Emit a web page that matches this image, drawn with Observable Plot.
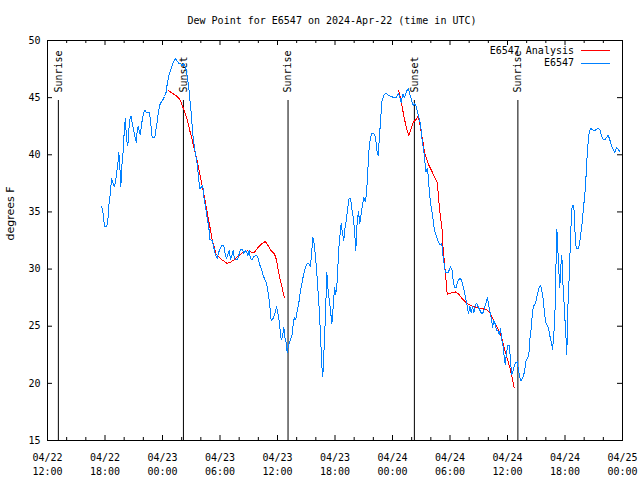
<!DOCTYPE html>
<html>
<head>
<meta charset="utf-8">
<script src="https://cdn.jsdelivr.net/npm/d3@7"></script>
<script src="https://cdn.jsdelivr.net/npm/@observablehq/plot@0.6"></script>
<style>
  html, body { margin: 0; padding: 0; background: #fff; }
</style>
</head>
<body>
<div id="chart"></div>
<script>
// ---------- data ----------
const chartTitle = "Dew Point for E6547 on 2024-Apr-22 (time in UTC)";
const yLabel = "degrees F";
const startTime = "2024-04-22T12:00:00Z";   // hours below are counted from here
const endTime = "2024-04-25T00:00:00Z";
const yDomain = [15, 50];
const yTicks = [15, 20, 25, 30, 35, 40, 45, 50];

const seriesNames = ["E6547 Analysis", "E6547"];
const seriesColors = ["#ff0000", "#0080ff"];

// Sun events
const sunTimes = ["2024-04-22T13:08:00Z", "2024-04-23T02:11:00Z", "2024-04-23T13:06:00Z", "2024-04-24T02:17:00Z", "2024-04-24T13:05:00Z"];
const sunLabels = ["Sunrise", "Sunset", "Sunrise", "Sunset", "Sunrise"];

// E6547 observations (hours since startTime, degrees F)
const obsHours = [
  5.63,5.77,5.95,6.16,6.29,6.44,6.57,6.68,6.86,6.96,
  7.10,7.20,7.34,7.44,7.54,7.65,7.75,7.90,8.03,8.14,
  8.24,8.38,8.48,8.63,8.73,8.87,9.01,9.15,9.26,9.36,
  9.46,9.57,9.67,9.78,9.91,10.05,10.15,10.30,10.64,10.75,
  10.85,10.93,11.20,11.30,11.45,11.55,11.69,11.86,12.03,12.21,
  12.39,12.49,12.66,12.84,13.01,13.18,13.36,13.53,13.70,13.88,
  14.06,14.22,14.40,14.58,14.74,14.85,15.00,15.13,15.27,15.44,
  15.62,15.79,15.89,16.07,16.21,16.31,16.49,16.66,16.83,16.94,
  17.19,17.35,17.53,17.71,17.88,18.05,18.26,18.40,18.54,18.68,
  18.81,18.96,19.10,19.23,19.38,19.51,19.80,19.96,20.14,20.35,
  20.48,20.63,20.77,20.90,21.05,21.18,21.36,21.53,21.74,21.94,
  22.09,22.23,22.36,22.51,22.64,22.78,22.93,23.06,23.20,23.34,
  23.48,23.61,23.76,23.90,24.03,24.18,24.28,24.39,24.52,24.66,
  24.76,24.91,25.01,25.18,25.36,25.51,25.64,25.77,25.91,26.06,
  26.22,26.40,26.58,26.74,26.92,27.10,27.27,27.44,27.58,27.68,
  27.83,27.97,28.10,28.25,28.38,28.49,28.62,28.73,28.87,29.01,
  29.15,29.25,29.40,29.53,29.67,29.81,29.95,30.08,30.23,30.37,
  30.50,30.65,30.78,30.92,31.06,31.20,31.34,31.48,31.62,31.75,
  31.90,32.04,32.17,32.32,32.45,32.59,32.73,32.87,33.01,33.15,
  33.29,33.42,33.57,33.71,33.88,34.05,34.23,34.36,34.51,34.61,
  34.75,34.88,35.09,35.27,35.61,36.14,36.42,36.60,36.76,36.91,
  37.08,37.25,37.43,37.64,37.81,37.98,38.16,38.33,38.47,38.61,
  38.75,38.92,39.06,39.20,39.34,39.48,39.62,39.73,39.86,40.04,
  40.21,40.38,40.73,40.94,41.14,41.29,41.43,41.53,41.81,42.05,
  42.23,42.33,42.47,42.65,42.81,43.02,43.23,43.38,43.51,43.65,
  43.80,43.93,44.07,44.21,44.35,44.49,44.63,44.77,44.94,45.11,
  45.29,45.47,45.63,45.78,45.91,46.05,46.20,46.33,46.44,46.57,
  46.72,46.85,46.99,47.13,47.27,47.41,47.55,47.66,47.76,47.90,
  48.03,48.21,48.31,48.45,48.60,48.73,48.87,49.01,49.15,49.28,
  49.43,49.60,49.77,49.91,50.06,50.22,50.33,50.48,50.61,50.75,
  50.92,51.10,51.27,51.44,51.58,51.73,51.86,52.00,52.14,52.28,
  52.41,52.56,52.70,52.83,52.98,53.08,53.15,53.22,53.32,53.46,
  53.57,53.67,53.77,53.92,54.02,54.13,54.19,54.29,54.44,54.54,
  54.65,54.75,54.92,55.02,55.17,55.38,55.51,55.65,55.80,55.90,
  56.04,56.14,56.24,56.35,56.49,56.66,56.87,57.08,57.25,57.42,
  57.63,57.81,57.99,58.15,58.33,58.51,58.68,58.85,59.03,59.20,
  59.37,59.55,59.69
];
const obsDewPoint = [
  35.5,35.1,33.7,33.7,34.2,35.9,36.7,37.9,37.5,37.2,
  37.6,38.3,39.2,40.2,39.1,37.2,38.9,40.4,42.4,43.2,
  41.3,40.8,42.1,43.3,43.4,42.6,42.1,41.5,41.1,42.1,
  42.5,42.1,41.8,42.4,43.2,43.7,43.9,43.7,43.7,43.0,
  42.1,41.5,41.5,42.1,42.9,43.6,44.3,44.6,44.8,45.1,
  45.5,46.2,46.9,47.4,47.8,48.2,48.4,48.2,48.0,48.0,
  47.8,48.0,47.7,46.9,45.9,44.9,43.6,42.1,41.0,40.1,
  39.2,37.8,37.0,37.2,37.3,36.3,35.4,34.5,33.7,32.6,
  32.5,31.9,31.2,30.9,31.5,31.9,32.1,32.0,31.3,30.9,
  31.3,31.6,30.8,31.2,31.6,30.9,30.8,31.2,31.7,31.7,
  31.4,31.6,31.5,31.2,31.6,30.9,30.8,31.1,31.2,31.1,
  30.5,30.2,29.9,29.4,29.2,28.9,28.4,27.8,26.8,25.5,
  25.6,25.8,26.2,26.7,26.2,25.4,24.6,23.8,24.1,24.9,
  24.1,23.5,22.7,23.4,23.8,24.2,25.2,25.8,25.6,26.4,
  27.0,28.1,28.9,29.6,30.2,30.5,30.5,30.2,31.6,32.8,
  32.2,31.0,29.7,27.8,26.1,24.2,21.6,20.6,23.2,26.1,
  29.7,28.4,27.3,26.4,25.2,26.7,28.4,27.8,28.9,31.5,
  32.8,34.0,33.1,32.5,33.7,34.4,35.4,36.2,36.2,35.3,
  34.5,33.4,31.6,34.3,35.0,34.0,34.8,35.6,36.3,35.9,
  36.6,38.6,40.7,41.5,41.9,41.9,41.5,40.4,39.9,41.3,
  42.9,44.6,45.2,45.4,45.2,45.0,45.0,45.4,45.0,44.6,
  45.3,45.0,45.5,45.8,45.3,44.8,44.3,44.5,44.2,43.7,
  43.3,42.7,41.5,40.7,39.8,38.5,38.8,38.2,36.6,35.4,
  34.5,33.4,32.5,32.1,32.2,31.0,30.2,29.7,29.7,30.2,
  29.9,29.0,28.4,28.4,28.9,29.2,29.0,28.4,28.0,27.4,
  26.7,26.1,26.7,26.2,26.7,26.2,26.8,27.0,26.7,26.4,
  26.1,26.2,26.7,27.1,27.5,26.8,26.1,25.6,24.9,25.5,
  25.2,24.6,24.6,24.3,24.8,23.8,23.2,22.3,21.6,22.7,
  23.3,23.3,21.9,20.8,21.1,21.6,21.8,21.9,21.2,20.5,
  20.2,20.5,21.0,21.9,22.2,22.4,23.8,24.9,26.3,26.8,
  27.0,27.7,28.3,28.6,28.1,27.3,26.1,25.3,25.1,24.8,
  24.2,23.6,23.0,24.2,26.8,31.2,33.5,32.5,30.3,28.4,
  30.3,31.2,28.9,26.8,25.2,23.6,22.5,26.5,29.3,31.8,
  34.3,35.6,35.6,33.5,31.8,31.8,32.2,33.1,34.1,35.1,
  36.3,37.3,38.8,40.5,41.8,42.3,42.2,42.1,42.2,42.3,
  42.2,41.7,41.3,41.3,41.5,41.7,41.3,40.8,40.5,40.2,
  40.6,40.5,40.3
];

// E6547 Analysis, first run (hours since startTime, degrees F)
const anaHoursA = [12.60,12.84,13.18,13.53,13.77,13.98,14.16,14.33,14.58,14.85,
  15.10,15.34,15.62,15.97,16.31,16.66,17.01,17.19,17.35,17.60,
  17.81,18.23,18.75,19.10,19.44,19.86,20.32,20.84,21.18,21.53,
  21.88,22.33,22.72,22.99,23.34,23.69,23.90,24.07,24.24,24.42,
  24.55,24.73];
const anaDewPointA = [45.6,45.5,45.3,45.1,44.9,44.5,44.1,43.7,43.1,42.1,
  41.3,40.4,39.5,38.0,36.6,35.0,33.4,32.5,32.1,31.3,
  31.1,30.8,30.5,30.6,30.8,31.1,31.4,31.6,31.5,31.4,
  31.8,32.2,32.4,32.1,31.6,31.3,30.8,29.9,29.2,28.6,
  28.1,27.5];
// E6547 Analysis, second run
const anaHoursB = [36.66,36.84,37.01,37.18,37.36,37.53,37.70,37.88,38.06,38.22,
  38.47,38.68,38.85,39.03,39.20,39.37,39.55,39.73,39.97,40.31,
  40.67,40.83,41.01,41.19,41.29,41.43,41.56,41.71,42.05,42.57,
  42.92,43.27,43.62,43.96,44.49,45.01,45.53,45.88,46.23,46.57,
  46.93,47.27,47.55,47.79,48.03,48.24,48.49,48.70];
const anaDewPointB = [45.6,44.9,44.2,43.4,42.7,42.1,41.7,42.1,42.6,42.9,
  43.1,43.4,42.7,41.8,41.0,40.1,39.7,39.2,38.8,38.2,
  37.6,36.0,34.5,33.4,31.6,30.5,29.3,27.8,27.9,28.0,
  27.8,27.4,27.1,26.9,26.7,26.6,26.5,26.4,26.1,25.5,
  24.9,24.3,23.5,22.7,22.0,21.4,20.5,19.6];

// ---------- build ----------
const t0 = new Date(startTime);
const t1 = new Date(endTime);
const toDate = h => new Date(t0.getTime() + h * 3600e3);
const rows = (hs, vs) => hs.map((h, i) => ({t: toDate(h), v: vs[i]}));
const obsRows = rows(obsHours, obsDewPoint);
const anaRowsA = rows(anaHoursA, anaDewPointA);
const anaRowsB = rows(anaHoursB, anaDewPointB);
const sunRows = sunTimes.map((s, i) => ({t: new Date(s), label: sunLabels[i]}));

const W = 640, H = 480;
const mL = 47, mR = 18, mT = 40, mB = 40;
const frameW = W - mL - mR, frameH = H - mT - mB;
const majorLen = 5, minorLen = 3;

const xMajor = d3.utcHours(t0, new Date(t1.getTime() + 1), 6);
const xMinor = d3.utcHours(t0, new Date(t1.getTime() + 1), 2).filter(d => d.getUTCHours() % 6 !== 0);
const fmt = d3.utcFormat("%m/%d\n%H:%M");
const mono = "'DejaVu Sans Mono', 'Liberation Mono', monospace";

function legend(index, scales, values, dims) {
  const g = d3.create("svg:g").attr("font-family", mono).attr("font-size", 10);
  const xr = dims.width - dims.marginRight - 48;
  seriesNames.forEach((name, i) => {
    const y = dims.marginTop + 10 + i * 12.5;
    g.append("text").attr("x", xr).attr("y", y).attr("dy", "0.35em")
      .attr("text-anchor", "end").attr("fill", "black").text(name);
    g.append("line").attr("x1", xr + 7).attr("x2", xr + 36)
      .attr("y1", Math.round(y) + 0.5).attr("y2", Math.round(y) + 0.5)
      .attr("stroke", seriesColors[i]).attr("stroke-width", 1);
  });
  return g.node();
}

const chart = Plot.plot({
  width: W, height: H,
  marginLeft: mL, marginRight: mR, marginTop: mT, marginBottom: mB,
  style: {fontFamily: mono, fontSize: "10px", background: "white", color: "black"},
  x: {type: "utc", domain: [t0, t1], label: null},
  y: {domain: yDomain, label: null},
  marks: [
    // sunrise / sunset markers
    Plot.ruleX(sunRows, {x: "t", insetTop: frameH * 0.15, stroke: "black", strokeWidth: 1}),
    Plot.text(sunRows, {x: "t", text: "label", frameAnchor: "top", dy: 52, rotate: -90,
      textAnchor: "start", lineAnchor: "middle", fill: "black", fontSize: 10}),
    // ticks (inward, mirrored)
    Plot.tickX(xMajor, {x: d => d, insetTop: frameH - majorLen, stroke: "black"}),
    Plot.tickX(xMajor, {x: d => d, insetBottom: frameH - majorLen, stroke: "black"}),
    Plot.tickX(xMinor, {x: d => d, insetTop: frameH - minorLen, stroke: "black"}),
    Plot.tickX(xMinor, {x: d => d, insetBottom: frameH - minorLen, stroke: "black"}),
    Plot.tickY(yTicks, {y: d => d, insetRight: frameW - majorLen, stroke: "black"}),
    Plot.tickY(yTicks, {y: d => d, insetLeft: frameW - majorLen, stroke: "black"}),
    // axes labels
    Plot.axisX({ticks: xMajor, tickFormat: fmt, tickSize: 0, tickPadding: 11, lineHeight: 1.4, label: null, fill: "black"}),
    Plot.axisY({ticks: yTicks, tickSize: 0, tickPadding: 7, label: null, fill: "black"}),
    // data
    Plot.line(anaRowsA, {x: "t", y: "v", stroke: seriesColors[0], strokeWidth: 1, shapeRendering: "crispEdges"}),
    Plot.line(anaRowsB, {x: "t", y: "v", stroke: seriesColors[0], strokeWidth: 1, shapeRendering: "crispEdges"}),
    Plot.line(obsRows, {x: "t", y: "v", stroke: seriesColors[1], strokeWidth: 1, shapeRendering: "crispEdges"}),
    // frame
    Plot.frame({stroke: "black", strokeWidth: 1}),
    // title and y label
    Plot.text([chartTitle], {text: d => d, frameAnchor: "top", dy: -20, dx: -3, lineAnchor: "middle",
      fill: "black", fontSize: 10}),
    Plot.text([yLabel], {text: d => d, frameAnchor: "left", dx: -37.5, rotate: -90, lineAnchor: "middle",
      fill: "black", fontSize: 11, fontFamily: "'DejaVu Sans', sans-serif"}),
    legend
  ]
});
document.getElementById("chart").appendChild(chart);
</script>
</body>
</html>
